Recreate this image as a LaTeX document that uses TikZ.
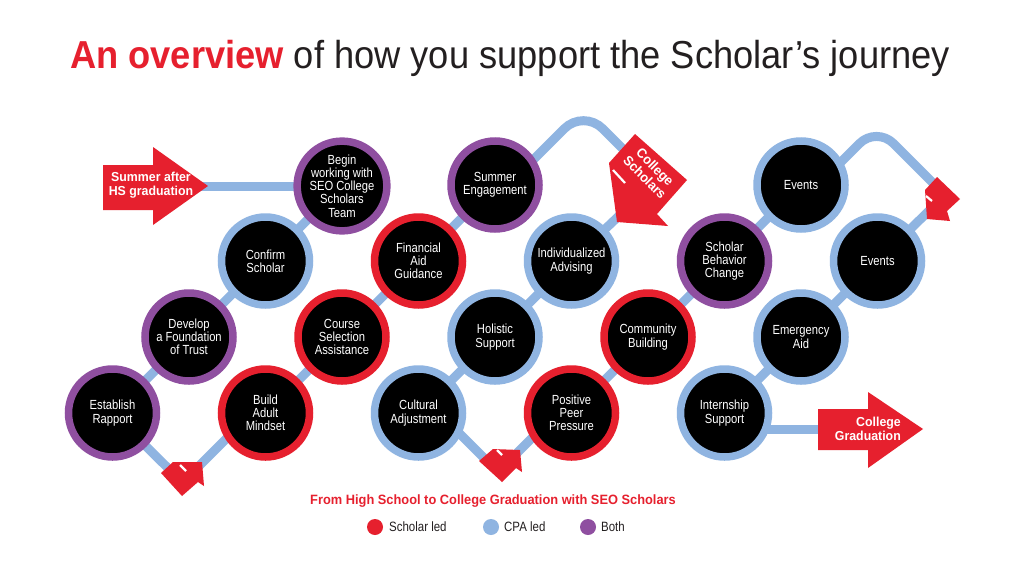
\documentclass[tikz,border=0pt]{standalone}
\usepackage{fontspec}
\setmainfont[FakeStretch=0.85]{Liberation Sans}
\newfontfamily\titlefont[FakeStretch=0.93]{Liberation Sans}
\newfontfamily\heavyfont[FakeStretch=0.95]{Liberation Sans}
\pgfdeclarelayer{bg}
\pgfsetlayers{bg,main}
\definecolor{sred}{RGB}{230,32,46}
\definecolor{sblue}{RGB}{143,180,225}
\definecolor{spurple}{RGB}{143,79,160}
\definecolor{stext}{RGB}{35,31,32}
\tikzset{
 ring/.style={circle, draw=#1, line width=7.5pt, fill=black, minimum size=88pt, inner sep=0pt, text=white, align=center, font=\fontsize{13.2}{13.2}\selectfont},
 conn/.style={draw=sblue, line width=9pt},
 redshape/.style={fill=sred, draw=none},
 arrowtext/.style={text=white, align=center, font=\heavyfont\bfseries\fontsize{13}{13.5}\selectfont, inner sep=0pt},
 gapline/.style={draw=white, line width=2.2pt},
 legdot/.style={circle, fill=#1, minimum size=16pt, inner sep=0pt},
 legtext/.style={text=stext, anchor=west, inner sep=0pt, font=\fontsize{13.5}{14}\selectfont},
}
\begin{document}
\begin{tikzpicture}[x=1pt,y=-1pt]
\begin{pgfonlayer}{bg}
\fill[white] (0,0) rectangle (1024,576);
\end{pgfonlayer}
\useasboundingbox (0,0) rectangle (1024,576);

% title
\node[anchor=base west, inner sep=0pt, text=stext, font=\titlefont\fontsize{39}{44}\selectfont] (title) at (70,68)
  {\textcolor{sred}{\bfseries An overview} of how you support the Scholar’s journey};

% circles
\node[ring=spurple] (c1) at (112.5,413) {Establish\\Rapport};
\node[ring=spurple] (c2) at (189,337) {Develop\\a Foundation\\of Trust};
\node[ring=sblue] (c3) at (265.5,261) {Confirm\\Scholar};
\node[ring=spurple] (c4) at (342,186) {Begin\\working with\\SEO College\\Scholars\\Team};
\node[ring=sred] (c5) at (265.5,413) {Build\\Adult\\Mindset};
\node[ring=sred] (c6) at (342,337) {Course\\Selection\\Assistance};
\node[ring=sred] (c7) at (418.5,261) {Financial\\Aid\\Guidance};
\node[ring=spurple] (c8) at (495,185) {Summer\\Engagement};
\node[ring=sblue] (c9) at (418.5,413) {Cultural\\Adjustment};
\node[ring=sblue] (c10) at (495,337) {Holistic\\Support};
\node[ring=sblue] (c11) at (571.5,261) {Individualized\\Advising};
\node[ring=sred] (c12) at (571.5,413) {Positive\\Peer\\Pressure};
\node[ring=sred] (c13) at (648,337) {Community\\Building};
\node[ring=spurple] (c14) at (724.5,261) {Scholar\\Behavior\\Change};
\node[ring=sblue] (c15) at (801,185) {Events};
\node[ring=sblue] (c16) at (724.5,413) {Internship\\Support};
\node[ring=sblue] (c17) at (801,337) {Emergency\\Aid};
\node[ring=sblue] (c18) at (877.5,261) {Events};

% helper coordinates
\coordinate (sumtip) at (200,186);
\coordinate (v1a) at (180,480);
\coordinate (v1b) at (195,470);
\coordinate (c5in) at (250,415);
\coordinate (c9in) at (440,414);
\coordinate (v2a) at (492,466);
\coordinate (c12in) at (560,410);
\coordinate (v2b) at (512,458);
\coordinate (c8in) at (500,193);
\coordinate (k1) at (583.5,109.5);
\coordinate (csin) at (640,166);
\coordinate (csout) at (622,213);
\coordinate (c15in) at (810,193);
\coordinate (k2) at (876.5,126.5);
\coordinate (rain) at (940,190);
\coordinate (raout) at (935,205);
\coordinate (c16in) at (730,429);
\coordinate (gradin) at (830,429);

% connectors
\begin{pgfonlayer}{bg}
\draw[conn] (sumtip) -- (c4.center);
\draw[conn] (c4.center) -- (c3.center) -- (c2.center) -- (c1.center);
\draw[conn] (c1.center) -- (v1a);
\draw[conn] (v1b) -- (c5in);
\draw[conn] (c5.center) -- (c6.center) -- (c7.center) -- (c8.center);
\draw[conn, rounded corners=27pt] (c8in) -- (k1) -- (csin);
\draw[conn] (csout) -- (c11.center);
\draw[conn] (c11.center) -- (c10.center) -- (c9.center);
\draw[conn] (c9in) -- (v2a);
\draw[conn] (v2b) -- (c12in);
\draw[conn] (c12.center) -- (c13.center) -- (c14.center) -- (c15.center);
\draw[conn, rounded corners=24pt] (c15in) -- (k2) -- (rain);
\draw[conn] (raout) -- (c18.center);
\draw[conn] (c18.center) -- (c17.center) -- (c16.center);
\draw[conn] (c16in) -- (gradin);
\end{pgfonlayer}

% red arrows
\fill[redshape] (103,165) -- (153,165) -- (153,147) -- (208,186) -- (153,225) -- (153,210) -- (103,210) -- cycle;
\node[arrowtext] (sumtext) at (151,185) {Summer after\\HS graduation};

\fill[redshape] (818,409) -- (868,409) -- (868,392) -- (923,429) -- (868,468) -- (868,450) -- (818,450) -- cycle;
\node[arrowtext, align=right, anchor=east] (gradtext) at (901,429) {College\\Graduation};

\fill[redshape] (635,134) -- (687,180) -- (657,214) -- (668,226) -- (617,222) -- (609,163) -- cycle;
\draw[gapline] (613,170) -- (625,183);
\node[arrowtext, rotate=-45, font=\heavyfont\bfseries\fontsize{13.5}{14.5}\selectfont] (cstext) at (650,172) {College\\Scholars};

\fill[redshape] (937,177) -- (960,199) -- (947,211) -- (950,221) -- (927,219) -- (925,190) -- cycle;
\draw[gapline] (926,196) -- (932,201);

\fill[redshape] (182,496) -- (161,473) -- (173,462) -- (202,462) -- (204,486) -- (198,482) -- cycle;
\draw[gapline] (180,465) -- (186,471);

\fill[redshape] (502,482) -- (479,461) -- (493,449) -- (520,450) -- (522,472) -- (516,468) -- cycle;
\draw[gapline] (497,450) -- (502,455);

% legend
\node[inner sep=0pt, text=sred, font=\heavyfont\bfseries\fontsize{13.5}{14}\selectfont] (legtitle) at (493,501)
  {From High School to College Graduation with SEO Scholars};
\node[legdot=sred] (d1) at (375,527) {};
\node[legtext] (t1) at (389,527) {Scholar led};
\node[legdot=sblue] (d2) at (491,527) {};
\node[legtext] (t2) at (504,527) {CPA led};
\node[legdot=spurple] (d3) at (588,527) {};
\node[legtext] (t3) at (601,527) {Both};
\end{tikzpicture}
\end{document}
